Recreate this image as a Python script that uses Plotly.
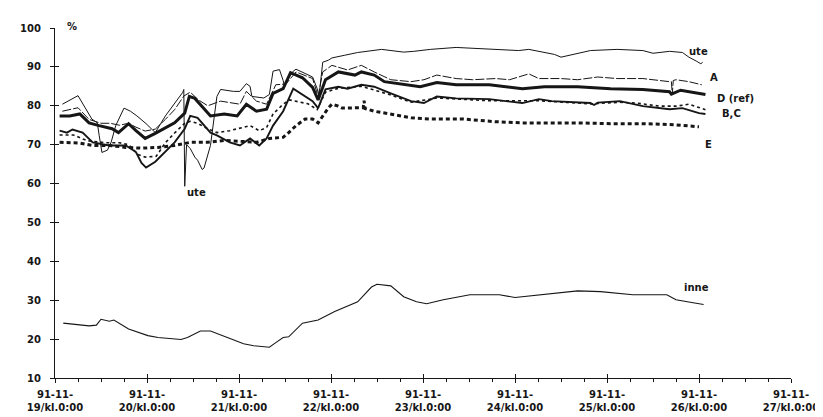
import plotly.graph_objects as go

# ---- tick labels (days since 91-11-19 kl.0:00) ----
x_tick_pos = [0, 1, 2, 3, 4, 5, 6, 7, 8]
x_tick_text = ["91-11-<br>%d/kl.0:00" % d for d in range(19, 28)]
y_tick_pos = [10, 20, 30, 40, 50, 60, 70, 80, 90, 100]

# ---- series (time in days after 91-11-19 0:00, relative humidity %) ----
ute_t = [0.08, 0.25, 0.40, 0.46, 0.48, 0.51, 0.57, 0.61, 0.66, 0.75, 0.82, 0.89, 0.99, 1.09,
         1.20, 1.30, 1.39, 1.40, 1.41, 1.43, 1.47, 1.52, 1.55, 1.60, 1.62, 1.69, 1.73, 1.76,
         1.80, 1.94, 2.01, 2.05, 2.08, 2.12, 2.14, 2.27, 2.33, 2.37, 2.44, 2.48, 2.49, 2.59,
         2.62, 2.80, 2.85, 2.87, 2.91, 2.97, 3.01, 3.15, 3.29, 3.55, 3.79, 3.90, 4.08, 4.36,
         4.68, 5.04, 5.15, 5.32, 5.43, 5.50, 5.64, 5.82, 6.11, 6.39, 6.50, 6.68, 6.82, 6.86,
         6.89, 6.97, 7.02, 7.04]
ute_v = [80.4, 82.6, 76.6, 75.6, 72.4, 68.0, 68.6, 70.6, 74.9, 79.4, 78.6, 77.4, 75.4, 73.1,
         77.4, 80.7, 83.5, 84.2, 59.3, 70.0, 69.0, 66.8, 66.0, 63.6, 64.0, 69.8, 76.6, 82.4,
         84.2, 83.7, 83.7, 85.0, 85.7, 85.0, 82.4, 82.0, 82.9, 88.9, 89.3, 86.5, 85.4, 88.9,
         89.4, 87.4, 84.4, 82.4, 91.2, 91.7, 92.3, 93.0, 93.7, 94.5, 93.8, 94.0, 94.5, 95.0,
         94.7, 94.2, 94.5, 93.7, 93.2, 92.5, 93.2, 94.2, 94.5, 94.2, 93.5, 94.0, 93.7, 93.0,
         92.5, 91.5, 90.8, 91.2]

a_t = [0.08, 0.25, 0.37, 0.50, 0.60, 0.70, 0.80, 0.88, 0.98, 1.09, 1.20, 1.30, 1.40, 1.47,
       1.56, 1.66, 1.80, 2.01, 2.08, 2.19, 2.30, 2.40, 2.51, 2.62, 2.80, 2.86, 2.91, 3.01,
       3.18, 3.33, 3.47, 3.65, 3.87, 4.01, 4.15, 4.36, 4.54, 4.79, 4.94, 5.15, 5.26, 5.50,
       5.68, 5.90, 6.11, 6.39, 6.68, 6.70, 6.71, 6.72, 6.75, 6.89, 7.03]
a_v = [78.6, 79.5, 76.5, 75.5, 75.5, 75.0, 75.5, 74.5, 73.5, 74.0, 76.5, 79.0, 82.5, 83.5,
       81.5, 80.0, 81.2, 80.4, 83.7, 81.2, 80.4, 85.4, 85.6, 88.7, 87.0, 82.4, 88.7, 90.4,
       89.2, 90.4, 88.7, 86.7, 86.2, 86.7, 87.9, 87.0, 86.7, 87.0, 86.7, 88.2, 87.0, 87.0,
       86.7, 87.4, 87.0, 87.0, 86.2, 86.2, 82.9, 86.5, 86.7, 86.2, 85.4]

d_t = [0.05, 0.16, 0.27, 0.37, 0.48, 0.62, 0.69, 0.80, 0.88, 0.98, 1.09, 1.20, 1.30, 1.41,
       1.46, 1.52, 1.62, 1.69, 1.84, 1.98, 2.08, 2.19, 2.30, 2.37, 2.48, 2.56, 2.69, 2.80,
       2.86, 2.94, 3.08, 3.26, 3.33, 3.47, 3.58, 3.97, 4.15, 4.36, 4.72, 5.08, 5.32, 5.68,
       6.04, 6.39, 6.68, 6.70, 6.80, 6.97, 7.07]
d_v = [77.4, 77.4, 77.9, 75.6, 74.9, 74.1, 73.1, 75.4, 73.6, 71.6, 72.9, 74.4, 75.6, 78.1,
       82.4, 81.9, 79.1, 77.4, 77.9, 77.4, 80.4, 78.6, 79.1, 83.2, 84.4, 88.5, 87.2, 84.7,
       81.5, 86.7, 88.7, 87.9, 88.7, 87.9, 86.2, 84.9, 86.0, 85.4, 85.4, 84.4, 84.9, 84.9,
       84.4, 84.2, 83.6, 83.0, 84.0, 83.2, 82.9]

b_t = [0.05, 0.13, 0.19, 0.30, 0.41, 0.59, 0.77, 0.88, 0.94, 0.99, 1.09, 1.20, 1.30, 1.41,
       1.47, 1.55, 1.62, 1.69, 1.76, 1.90, 2.01, 2.12, 2.22, 2.30, 2.37, 2.48, 2.59, 2.69,
       2.80, 2.86, 2.94, 3.08, 3.18, 3.33, 3.47, 3.65, 3.87, 4.01, 4.15, 4.36, 4.72, 5.08,
       5.26, 5.40, 5.82, 5.86, 5.90, 6.14, 6.39, 6.68, 6.82, 7.00, 7.07]
b_v = [73.6, 73.1, 73.9, 73.1, 70.6, 69.8, 69.8, 68.1, 65.3, 64.1, 65.6, 68.1, 70.6, 74.1,
       77.4, 76.9, 74.9, 73.1, 72.4, 70.6, 69.8, 71.6, 69.8, 71.6, 74.9, 78.6, 84.4, 82.9,
       81.2, 79.4, 84.2, 84.9, 84.4, 85.4, 84.9, 83.2, 81.2, 80.7, 82.4, 81.9, 81.7, 80.7,
       81.7, 81.2, 80.7, 80.2, 80.8, 81.2, 79.9, 79.1, 79.4, 78.1, 77.9]

c_t = [0.05, 0.20, 0.35, 0.55, 0.70, 0.80, 0.90, 0.98, 1.10, 1.20, 1.30, 1.41, 1.47, 1.55,
       1.66, 1.76, 1.90, 2.05, 2.12, 2.22, 2.30, 2.37, 2.48, 2.55, 2.65, 2.75, 2.85, 2.94,
       3.08, 3.33, 3.65, 3.87, 4.15, 4.72, 5.26, 5.82, 6.14, 6.32, 6.57, 6.75, 6.89, 7.02, 7.07]
c_v = [72.5, 72.5, 71.0, 70.5, 70.5, 70.0, 67.5, 66.8, 67.0, 70.5, 73.0, 75.5, 76.0, 75.5,
       74.1, 73.1, 73.6, 74.4, 74.9, 73.6, 74.4, 77.9, 80.4, 81.5, 81.0, 80.5, 79.0, 83.5,
       84.5, 85.0, 82.8, 80.9, 82.0, 81.3, 81.3, 80.5, 80.9, 80.7, 79.9, 79.9, 80.4, 79.4, 79.0]

e_t = [0.05, 0.27, 0.41, 0.59, 0.77, 0.94, 1.12, 1.30, 1.47, 1.66, 1.84, 2.05, 2.19, 2.33,
       2.48, 2.54, 2.62, 2.72, 2.80, 2.86, 2.97, 3.01, 3.08, 3.12, 3.29, 3.35, 3.36, 3.37,
       3.47, 3.65, 3.87, 4.08, 4.43, 4.79, 5.08, 5.68, 6.04, 6.39, 6.75, 7.00]
e_v = [70.6, 70.4, 69.8, 69.8, 69.3, 69.1, 69.3, 69.8, 70.6, 70.6, 71.1, 70.8, 70.6, 71.6,
       71.9, 73.1, 74.9, 76.6, 76.6, 75.6, 79.4, 80.4, 79.9, 79.4, 79.4, 79.5, 81.3, 79.3,
       78.6, 77.9, 76.9, 76.6, 76.6, 75.9, 75.6, 75.6, 75.4, 75.4, 75.1, 74.6]

inne_t = [0.09, 0.37, 0.45, 0.50, 0.59, 0.64, 0.80, 1.01, 1.12, 1.37, 1.44, 1.58, 1.69, 1.87,
          2.05, 2.16, 2.33, 2.40, 2.48, 2.54, 2.69, 2.86, 3.04, 3.29, 3.44, 3.50, 3.58, 3.65,
          3.79, 3.93, 4.04, 4.22, 4.51, 4.83, 5.00, 5.40, 5.68, 5.93, 6.28, 6.65, 6.75, 6.92, 7.05]
inne_v = [24.1, 23.4, 23.6, 25.1, 24.6, 24.9, 22.6, 20.9, 20.4, 19.9, 20.4, 22.1, 22.1, 20.4,
          18.8, 18.3, 17.9, 19.1, 20.4, 20.6, 24.1, 24.9, 27.1, 29.6, 33.4, 34.1, 33.9, 33.7,
          30.9, 29.6, 29.1, 30.1, 31.4, 31.4, 30.7, 31.7, 32.4, 32.2, 31.4, 31.4, 30.1, 29.4, 28.9]

# ---- curve labels (text, time, value) ----
label_text = ["ute", "A", "D (ref)", "B,C", "E", "inne", "ute"]
label_t = [6.99, 7.16, 7.40, 7.35, 7.10, 6.97, 1.54]
label_v = [94.0, 87.2, 81.9, 77.9, 70.1, 33.2, 57.8]
unit_label = "%"

INK = "#161616"
FONT = "DejaVu Sans"
FSIZE = 10

fig = go.Figure()

series = [
    (inne_t, inne_v, 1.1, "solid"),
    (e_t, e_v, 3.0, "4px,3px"),
    (c_t, c_v, 1.6, "dot"),
    (b_t, b_v, 1.9, "solid"),
    (d_t, d_v, 3.0, "solid"),
    (a_t, a_v, 1.0, "9px,2px"),
    (ute_t, ute_v, 1.0, "solid"),
]
for t, v, w, dash in series:
    fig.add_trace(go.Scatter(x=t, y=v, mode="lines",
                             line=dict(color=INK, width=w, dash=dash),
                             showlegend=False, hoverinfo="skip"))

# helper trace for the overlay axes that give the crossing tick marks
fig.add_trace(go.Scatter(x=[None], y=[None], xaxis="x2", yaxis="y2",
                         showlegend=False, hoverinfo="skip"))

labfont = dict(family=FONT, size=FSIZE, color=INK, weight="bold")
for txt, t, v in zip(label_text, label_t, label_v):
    fig.add_annotation(x=t, y=v, text=txt, showarrow=False,
                       xanchor="center", yanchor="middle", font=labfont)

fig.add_annotation(xref="paper", yref="paper", x=0.013, y=1.0, text=unit_label,
                   showarrow=False, xanchor="left", yanchor="middle", yshift=2,
                   font=labfont)

tickfont = dict(family=FONT, size=FSIZE, color=INK, weight="bold")
minor_vals = [i / 4 for i in range(33)]

fig.update_layout(
    width=823, height=417,
    margin=dict(l=45, r=29, t=20, b=39),
    paper_bgcolor="white", plot_bgcolor="white",
    showlegend=False,
    xaxis=dict(range=[0, 8], tickmode="array", tickvals=x_tick_pos, ticktext=x_tick_text,
               ticks="outside", ticklen=4, tickwidth=1.2, tickcolor=INK,
               showline=True, linecolor=INK, linewidth=1.2,
               showgrid=False, zeroline=False, tickfont=tickfont,
               ticklabelstandoff=3,
               minor=dict(tickmode="array", tickvals=minor_vals, ticks="outside",
                          ticklen=3, tickwidth=1, tickcolor=INK, showgrid=False)),
    yaxis=dict(range=[10, 100], tickmode="array", tickvals=y_tick_pos,
               ticks="outside", ticklen=4, tickwidth=1.2, tickcolor=INK,
               showline=True, linecolor=INK, linewidth=1.2,
               showgrid=False, zeroline=False, tickfont=tickfont,
               ticklabelstandoff=7),
    xaxis2=dict(range=[0, 8], overlaying="x", anchor="y2", tickmode="array",
                tickvals=x_tick_pos, ticks="inside", ticklen=4, tickwidth=1.2,
                tickcolor=INK, showticklabels=False, showline=False,
                showgrid=False, zeroline=False),
    yaxis2=dict(range=[10, 100], overlaying="y", anchor="x2", tickmode="array",
                tickvals=y_tick_pos, ticks="inside", ticklen=4, tickwidth=1.2,
                tickcolor=INK, showticklabels=False, showline=False,
                showgrid=False, zeroline=False),
)

fig.write_html("out.html")
